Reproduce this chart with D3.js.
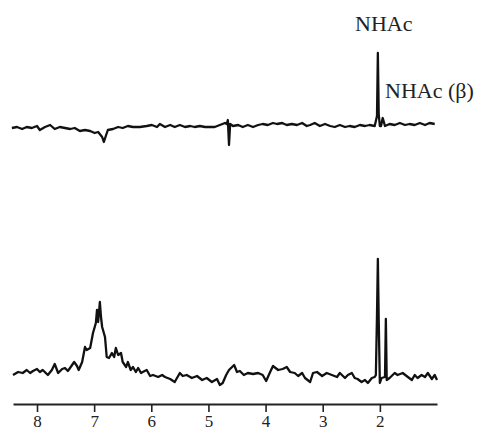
<!DOCTYPE html>
<html>
<head>
<meta charset="utf-8">
<script src="https://cdn.jsdelivr.net/npm/d3@7"></script>
<style>
  body { margin: 0; background: #fff; }
  svg { display: block; }
  .lbl { font-family: "Times New Roman", "Liberation Serif", Tinos, Times, serif; fill: #222; }
  .axis text { font-family: "Times New Roman", "Liberation Serif", Tinos, Times, serif; font-size: 17px; fill: #222; }
</style>
</head>
<body>
<svg id="nmr" width="478" height="430"></svg>
<script>
// chemical shift ticks (ppm)
var ppmTicks = [8, 7, 6, 5, 4, 3, 2];

// upper trace: shift (ppm) and intensity (arb.)
var topShift = [8.44, 8.35, 8.26, 8.18, 8.09, 8.00, 7.95, 7.86, 7.77, 7.69, 7.60, 7.51, 7.42, 7.34, 7.25,
  7.16, 7.07, 6.99, 6.93, 6.86, 6.83, 6.79, 6.76, 6.67, 6.58, 6.50, 6.41, 6.32, 6.20, 6.08, 5.99, 5.90,
  5.85, 5.76, 5.67, 5.59, 5.50, 5.41, 5.32, 5.24, 5.15, 5.06, 4.97, 4.89, 4.80, 4.71, 4.68, 4.66, 4.64,
  4.62, 4.57, 4.48, 4.40, 4.31, 4.22, 4.13, 4.05, 3.96, 3.87, 3.80, 3.71, 3.63, 3.54, 3.45, 3.36, 3.28,
  3.22, 3.14, 3.05, 2.96, 2.87, 2.79, 2.70, 2.61, 2.53, 2.44, 2.35, 2.26, 2.18, 2.09, 2.05, 2.035, 2.02,
  2.00, 1.98, 1.95, 1.91, 1.83, 1.74, 1.65, 1.56, 1.48, 1.39, 1.30, 1.21, 1.13, 1.04];
var topInt = [-2, -1, -3, -1, -2, 0, -4, -1, 1, -3, -1, -2, -3, -2, -5,
  -4, -5, -7, -6, -11, -16, -9, -4, -3, -1, -2, 0, -1, -1, 0, 1, -1,
  2, -1, 1, -1, 1, -1, 0, -1, 0, -1, -1, -1, 1, 3, 2, 6, -19,
  2, 0, 1, -1, 1, -1, 1, 2, 1, 3, 2, 3, 1, 2, 1, 3, 0,
  1, 3, 0, 2, 0, -1, 1, -1, 0, -1, 1, 0, 1, 0, 10, 73, 12,
  0, 0, 8, 0, 2, 1, 3, 1, 2, 1, 3, 1, 3, 2];

// lower trace: shift (ppm) and intensity (arb.)
var lowShift = [8.42, 8.33, 8.25, 8.18, 8.12, 8.07, 8.00, 7.95, 7.90, 7.81, 7.74, 7.69, 7.63, 7.56, 7.51,
  7.46, 7.41, 7.35, 7.30, 7.27, 7.21, 7.16, 7.13, 7.07, 7.02, 6.97, 6.95, 6.93, 6.90, 6.88, 6.86, 6.81,
  6.78, 6.74, 6.69, 6.65, 6.62, 6.58, 6.53, 6.50, 6.44, 6.41, 6.36, 6.32, 6.27, 6.23, 6.18, 6.15, 6.08,
  6.02, 5.97, 5.88, 5.81, 5.76, 5.67, 5.59, 5.50, 5.45, 5.38, 5.29, 5.20, 5.11, 5.03, 4.94, 4.85, 4.80,
  4.75, 4.69, 4.64, 4.55, 4.50, 4.45, 4.38, 4.31, 4.22, 4.13, 4.05, 3.99, 3.92, 3.87, 3.78, 3.70, 3.63,
  3.57, 3.49, 3.43, 3.36, 3.31, 3.22, 3.17, 3.10, 3.01, 2.93, 2.84, 2.75, 2.70, 2.61, 2.56, 2.49, 2.44,
  2.39, 2.32, 2.26, 2.21, 2.14, 2.09, 2.07, 2.05, 2.035, 2.02, 2.00, 1.97, 1.91, 1.895, 1.88, 1.83, 1.74,
  1.69, 1.60, 1.51, 1.44, 1.39, 1.34, 1.27, 1.21, 1.16, 1.09, 1.04, 1.00];
var lowInt = [0, 3, 2, 5, 2, 4, 6, 3, 5, 0, 5, 11, 2, 6, 7,
  4, 8, 13, 9, 5, 13, 28, 25, 27, 42, 52, 65, 53, 73, 58, 48, 38,
  18, 17, 22, 18, 27, 20, 22, 13, 8, 13, 5, 8, 3, 7, 2, 3, 5,
  -1, 0, -2, 0, -2, -4, -7, 2, -1, 0, -3, -1, -5, -3, -7, -4, -10,
  -8, 0, 5, 10, 3, 4, 0, 2, 1, 2, 0, -6, 3, 9, 5, 6, 8,
  3, 2, -1, 2, -3, -7, 2, 3, -1, 2, 0, -2, 2, -3, 0, 2, -3,
  -4, -7, -5, -8, -3, -2, 0, 60, 116, 55, -8, -3, -2, 56, -5, -3, 2,
  0, 2, -2, -5, 0, -3, 0, -2, 2, -4, 0, -5];

var svg = d3.select("#nmr");

var x = d3.scaleLinear()
    .domain([8.42, 1.0])
    .range([13, 437]);

// each trace has its own baseline, same intensity scale
var yTop = d3.scaleLinear().domain([0, 100]).range([126, 26]);
var yLow = d3.scaleLinear().domain([0, 100]).range([375, 275]);

var drawTrace = function(shift, inten, yScale) {
    var pts = shift.map(function(s, i) { return [s, inten[i]]; });
    var line = d3.line()
        .x(function(d) { return x(d[0]); })
        .y(function(d) { return yScale(d[1]); });
    svg.append("path")
        .datum(pts)
        .attr("d", line)
        .attr("fill", "none")
        .attr("stroke", "#111")
        .attr("stroke-width", 2.3)
        .attr("stroke-linejoin", "round");
};

drawTrace(topShift, topInt, yTop);
drawTrace(lowShift, lowInt, yLow);

// axis
var xAxis = d3.axisBottom(x)
    .tickValues(ppmTicks)
    .tickFormat(d3.format("d"))
    .tickSizeInner(8)
    .tickSizeOuter(0)
    .tickPadding(3);

var ax = svg.append("g")
    .attr("class", "axis")
    .attr("transform", "translate(0,404)")
    .call(xAxis);
ax.select(".domain").attr("stroke", "#222").attr("stroke-width", 2);
ax.selectAll(".tick line").attr("stroke", "#222").attr("stroke-width", 1.6);

// peak labels
svg.append("text")
    .attr("class", "lbl")
    .attr("x", 355)
    .attr("y", 31)
    .style("font-size", "22px")
    .text("NHAc");

svg.append("text")
    .attr("class", "lbl")
    .attr("x", 385)
    .attr("y", 98)
    .style("font-size", "22px")
    .text("NHAc (β)");
</script>
</body>
</html>
